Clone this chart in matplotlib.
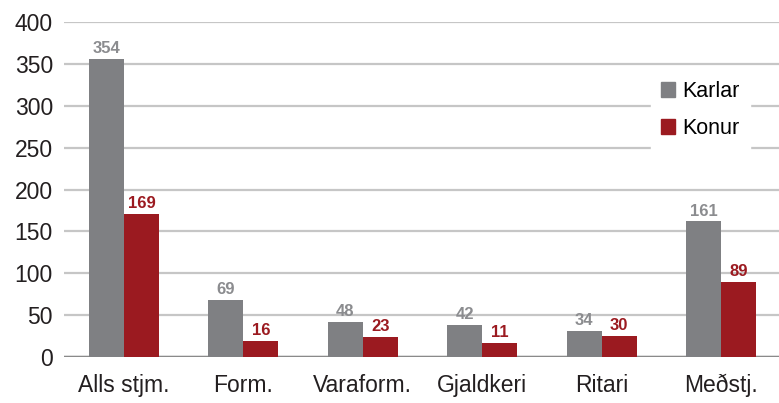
import numpy as np
import matplotlib.pyplot as plt
from matplotlib.patches import Patch

# categories and values
categories = ['Alls stjm.', 'Form.', 'Varaform.', 'Gjaldkeri', 'Ritari', 'Meðstj.']
karlar_bars = [356, 68, 42, 38, 31, 162]
konur_bars = [171, 19, 24, 17, 25, 90]
karlar_labels = ['354', '69', '48', '42', '34', '161']
konur_labels = ['169', '16', '23', '11', '30', '89']
yticks = [0, 50, 100, 150, 200, 250, 300, 350, 400]

GREY = '#7f8083'
RED = '#9b1a20'
GREY_TXT = '#8b8c8f'

def main():
    plt.rcParams['font.family'] = ['Liberation Sans', 'DejaVu Sans']
    fig = plt.figure(figsize=(7.79, 4.03), dpi=100)
    ax = fig.add_axes([64 / 779, 1 - 357 / 403, 715 / 779, 335 / 403])

    x = np.arange(len(categories))
    w = 0.293
    b1 = ax.bar(x - w / 2, karlar_bars, w, color=GREY, zorder=3)
    b2 = ax.bar(x + w / 2, konur_bars, w, color=RED, zorder=3)

    for rect, lab in zip(b1, karlar_labels):
        ax.annotate(lab, (rect.get_x() + rect.get_width() / 2, rect.get_height()),
                    xytext=(0, 2), textcoords='offset points', ha='center', va='bottom',
                    fontsize=12, fontweight='bold', color=GREY_TXT)
    for rect, lab in zip(b2, konur_labels):
        ax.annotate(lab, (rect.get_x() + rect.get_width() / 2, rect.get_height()),
                    xytext=(0, 2), textcoords='offset points', ha='center', va='bottom',
                    fontsize=12, fontweight='bold', color=RED)

    ax.set_xlim(-0.5025, 5.486)
    ax.set_ylim(0, 400)
    ax.set_yticks(yticks)
    ax.set_xticks(x)
    ax.set_xticklabels(categories)
    ax.tick_params(axis='both', length=0, labelsize=16.5, colors='#231f20')
    ax.tick_params(axis='y', pad=8)
    ax.tick_params(axis='x', pad=12)

    for s in ax.spines.values():
        s.set_visible(False)
    ax.yaxis.grid(True, color='#c6c6c6', linewidth=1.6, zorder=0)
    ax.set_axisbelow(True)
    ax.axhline(0, color='#8a8a8a', linewidth=2.5, zorder=2)

    handles = [Patch(color=GREY, label='Karlar'), Patch(color=RED, label='Konur')]
    leg = ax.legend(handles=handles, loc='center', bbox_to_anchor=(0.89, 0.737),
                    fontsize=15.5, frameon=True, handlelength=0.65, handleheight=0.65,
                    handletextpad=0.3, labelspacing=0.75, borderpad=0.5, borderaxespad=0,
                    fancybox=False)
    leg.get_frame().set_edgecolor('white')
    leg.get_frame().set_facecolor('white')
    leg.get_frame().set_alpha(1)
    leg.set_zorder(5)

    fig.savefig('out.png', dpi=100)

if __name__ == '__main__':
    main()
